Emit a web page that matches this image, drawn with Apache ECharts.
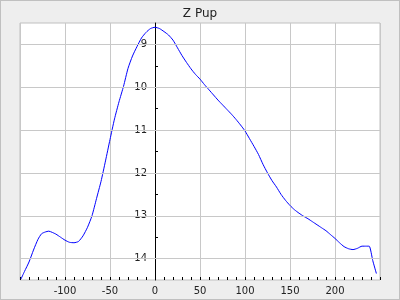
<!DOCTYPE html>
<html><head><meta charset="utf-8">
<script src="https://cdn.jsdelivr.net/npm/echarts@6/dist/echarts.min.js"></script>
<style>html,body{margin:0;padding:0;}#c{width:400px;height:300px;background:#eeeeee;box-shadow:inset 0 0 0 1px #c0c0c0;}</style>
</head><body><div id="c"></div>
<script>
const titleText = "Z Pup";
const phase = [-149,-145,-140,-135,-130,-126,-122,-118,-114,-110,-105,-100,-95,-90,-85,-80,-75,-70,-65,-60,-55,-50,-45,-40,-35,-30,-25,-20,-15,-10,-5,0,5,10,15,20,25,30,35,40,45,50,55,60,65,70,75,80,85,90,95,100,105,110,115,120,125,130,135,140,145,150,155,160,165,170,175,180,185,190,195,200,205,210,215,220,225,230,235,238,242,246];
const mag = [14.48,14.3,14.08,13.8,13.55,13.42,13.38,13.36,13.39,13.43,13.5,13.57,13.62,13.63,13.6,13.47,13.27,13.0,12.6,12.2,11.72,11.22,10.74,10.34,9.98,9.56,9.27,9.05,8.85,8.72,8.63,8.6,8.63,8.7,8.78,8.9,9.08,9.26,9.42,9.57,9.7,9.81,9.94,10.06,10.18,10.3,10.41,10.52,10.63,10.75,10.88,11.02,11.2,11.38,11.57,11.8,12.0,12.18,12.33,12.5,12.64,12.76,12.86,12.94,13.01,13.07,13.14,13.21,13.28,13.35,13.44,13.53,13.63,13.72,13.77,13.79,13.76,13.71,13.71,13.71,14.05,14.35];
const yMajor = [9,10,11,12,13,14];
const yMinor = [9.5,10.5,11.5,12.5,13.5];
const data = phase.map((p,i)=>[p,mag[i]]);
const chart = echarts.init(document.getElementById('c'));
const font = 'DejaVu Sans';
const yOff = -135; // y axis drawn at phase 0
const yBase = {type:'value',position:'left',inverse:true,min:8.5,max:14.5,interval:0.5,offset:yOff,
  axisLine:{show:false,onZero:false},splitLine:{show:false},axisLabel:{show:false}};
chart.setOption({
  animation:false,
  backgroundColor:'transparent',
  title:{text:titleText,left:'center',top:3,textStyle:{fontFamily:font,fontSize:12,fontWeight:'normal',color:'#222'}},
  grid:{left:20,right:20,top:23,bottom:20,show:true,backgroundColor:'#ffffff',borderColor:'#c0c0c0',borderWidth:1},
  xAxis:{type:'value',min:-150,max:250,interval:50,
    axisLine:{show:false,onZero:false},
    axisTick:{show:true,inside:true,length:3,lineStyle:{color:'#000'}},
    minorTick:{show:true,splitNumber:5,length:3,lineStyle:{color:'#000'}},
    axisLabel:{fontFamily:font,fontSize:10,color:'#222',margin:6,
      formatter:v=> (v===-150||v===250)?'':String(v)},
    splitLine:{show:true,lineStyle:{color:'#c8c8c8',width:1}}},
  yAxis:[
    Object.assign({},yBase,{
      axisLine:{show:true,onZero:false,lineStyle:{color:'#000',width:1}},
      axisTick:{show:true,inside:true,length:6,customValues:yMajor,lineStyle:{color:'#000'}},
      axisLabel:{show:true,customValues:yMajor,fontFamily:font,fontSize:10,color:'#222',margin:8}}),
    Object.assign({},yBase,{
      axisTick:{show:true,inside:true,length:3,customValues:yMinor,lineStyle:{color:'#000'}}})
  ],
  series:[{type:'line',data:data,showSymbol:false,smooth:0.2,lineStyle:{color:'#0000ff',width:1},
    markLine:{silent:true,symbol:'none',animation:false,label:{show:false},
      lineStyle:{color:'#c8c8c8',width:1,type:'solid'},
      data:yMajor.map(v=>({yAxis:v}))},
    z:3}]
});
</script></body></html>
